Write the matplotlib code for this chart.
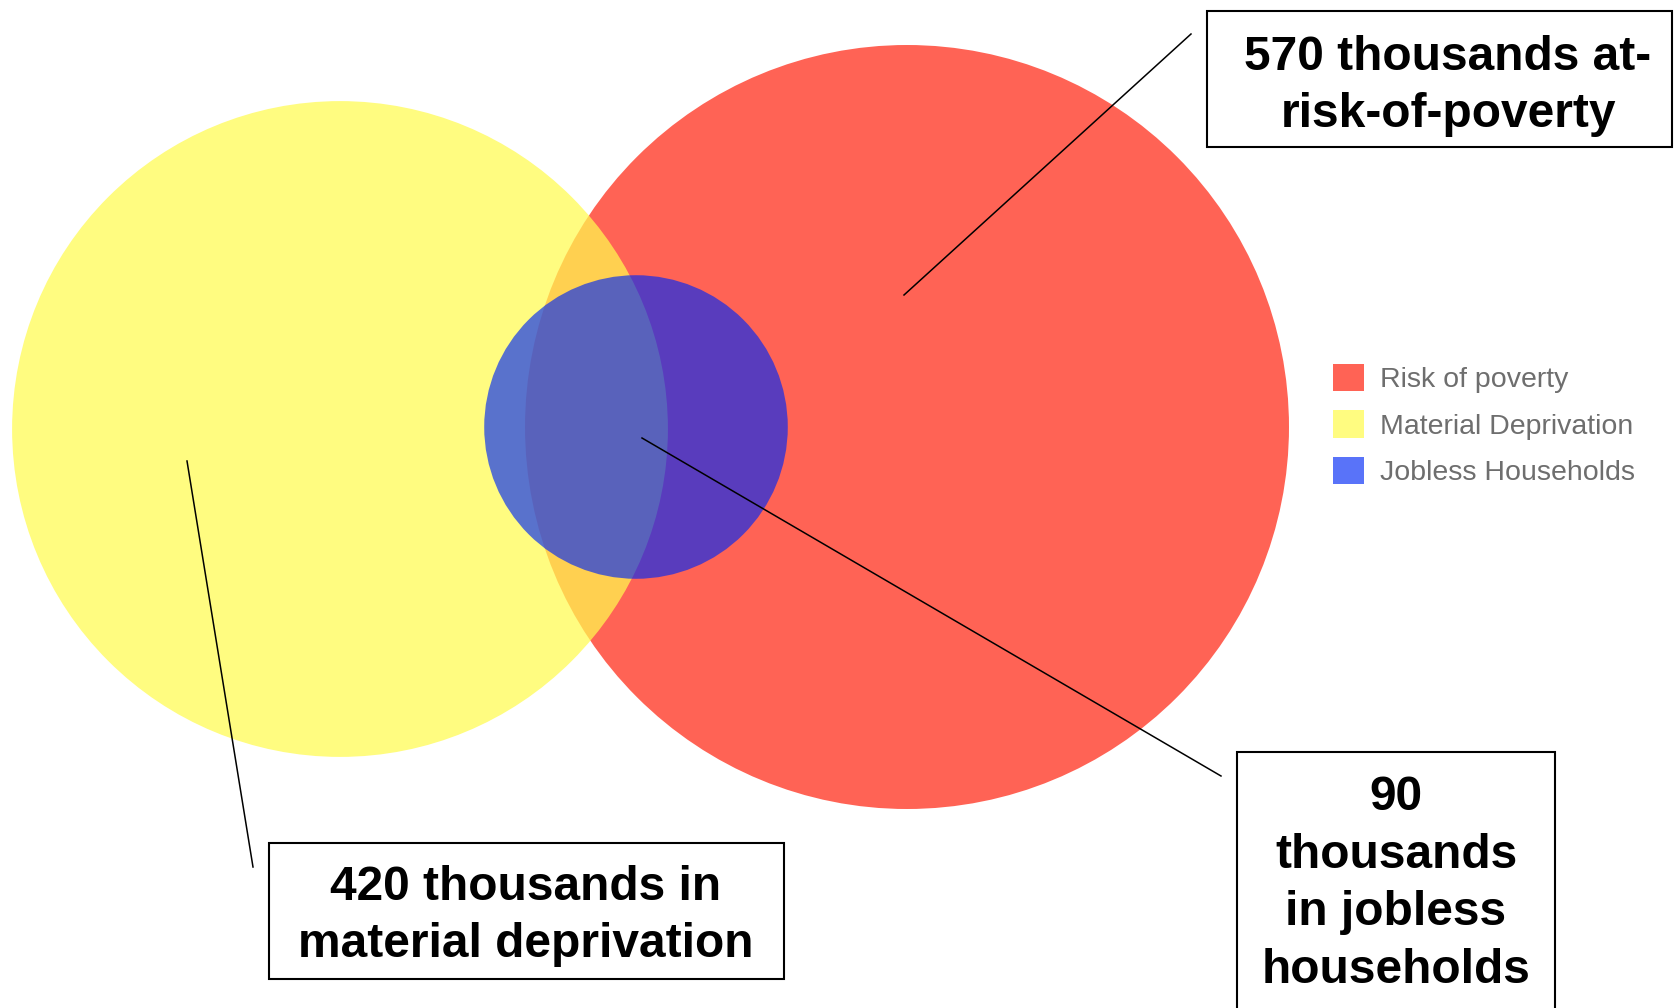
import numpy as np
import matplotlib.pyplot as plt
from matplotlib.patches import Circle, Rectangle, Patch

# values in thousands
groups = ['Risk of poverty', 'Material Deprivation', 'Jobless Households']
values = [570, 420, 90]
labels = ['570 thousands at-\nrisk-of-poverty',
          '420 thousands in\nmaterial deprivation',
          '90\nthousands\nin jobless\nhouseholds']

# fill colours (drawn with alpha) and the colours they give on white
fill_cols = [(1.0, 0.388, 0.333), (1.0, 0.984, 0.31), (0.0, 0.157, 0.965)]
fill_alpha = [1.0, 0.72, 0.65]
legend_cols = ['#FF6355', '#FFFC80', '#5973F9']

W, H = 1675, 1008
fig = plt.figure(figsize=(W / 100, H / 100), dpi=100)
ax = fig.add_axes([0, 0, 1, 1])
ax.set_xlim(0, W)
ax.set_ylim(H, 0)
ax.set_aspect('equal')
ax.axis('off')

# circle area proportional to value
k = 16.0
radii = [k * np.sqrt(v) for v in values]
centres = [(907, 427), (340, 429), (636, 427)]
for c, r, col, a in zip(centres, radii, fill_cols, fill_alpha):
    ax.add_patch(Circle(c, r, facecolor=col, alpha=a, edgecolor='none'))

# callout boxes
boxes = [(1207, 11, 465, 136), (269, 843, 515, 136), (1237, 752, 318, 270)]
text_pos = [(1448, 86), (526, 916), (1396, 884)]
leaders = [((904, 295), (1191, 34)), ((187, 461), (253, 867)), ((642, 438), (1221, 776))]
for (bx, by, bw, bh), (tx, ty), ((x0, y0), (x1, y1)), lab in zip(boxes, text_pos, leaders, labels):
    ax.plot([x0, x1], [y0, y1], color='black', lw=1.1)
    ax.add_patch(Rectangle((bx, by), bw, bh, facecolor='white', edgecolor='black', lw=1.5))
    ax.text(tx, ty, lab, ha='center', va='center', fontsize=34.5, fontweight='bold',
            family='Liberation Sans', linespacing=1.355)

handles = [Patch(facecolor=c, edgecolor='none') for c in legend_cols]
leg = ax.legend(handles, groups, loc='center left', bbox_to_anchor=(1307 / W, 1 - 425 / H),
                bbox_transform=fig.transFigure, frameon=False,
                handlelength=1.1, handleheight=1.1, handletextpad=0.55, labelspacing=0.6,
                prop={'family': 'Liberation Sans', 'size': 20.5})
for t in leg.get_texts():
    t.set_color('#6e6e6e')

fig.savefig('out.png', dpi=100)
